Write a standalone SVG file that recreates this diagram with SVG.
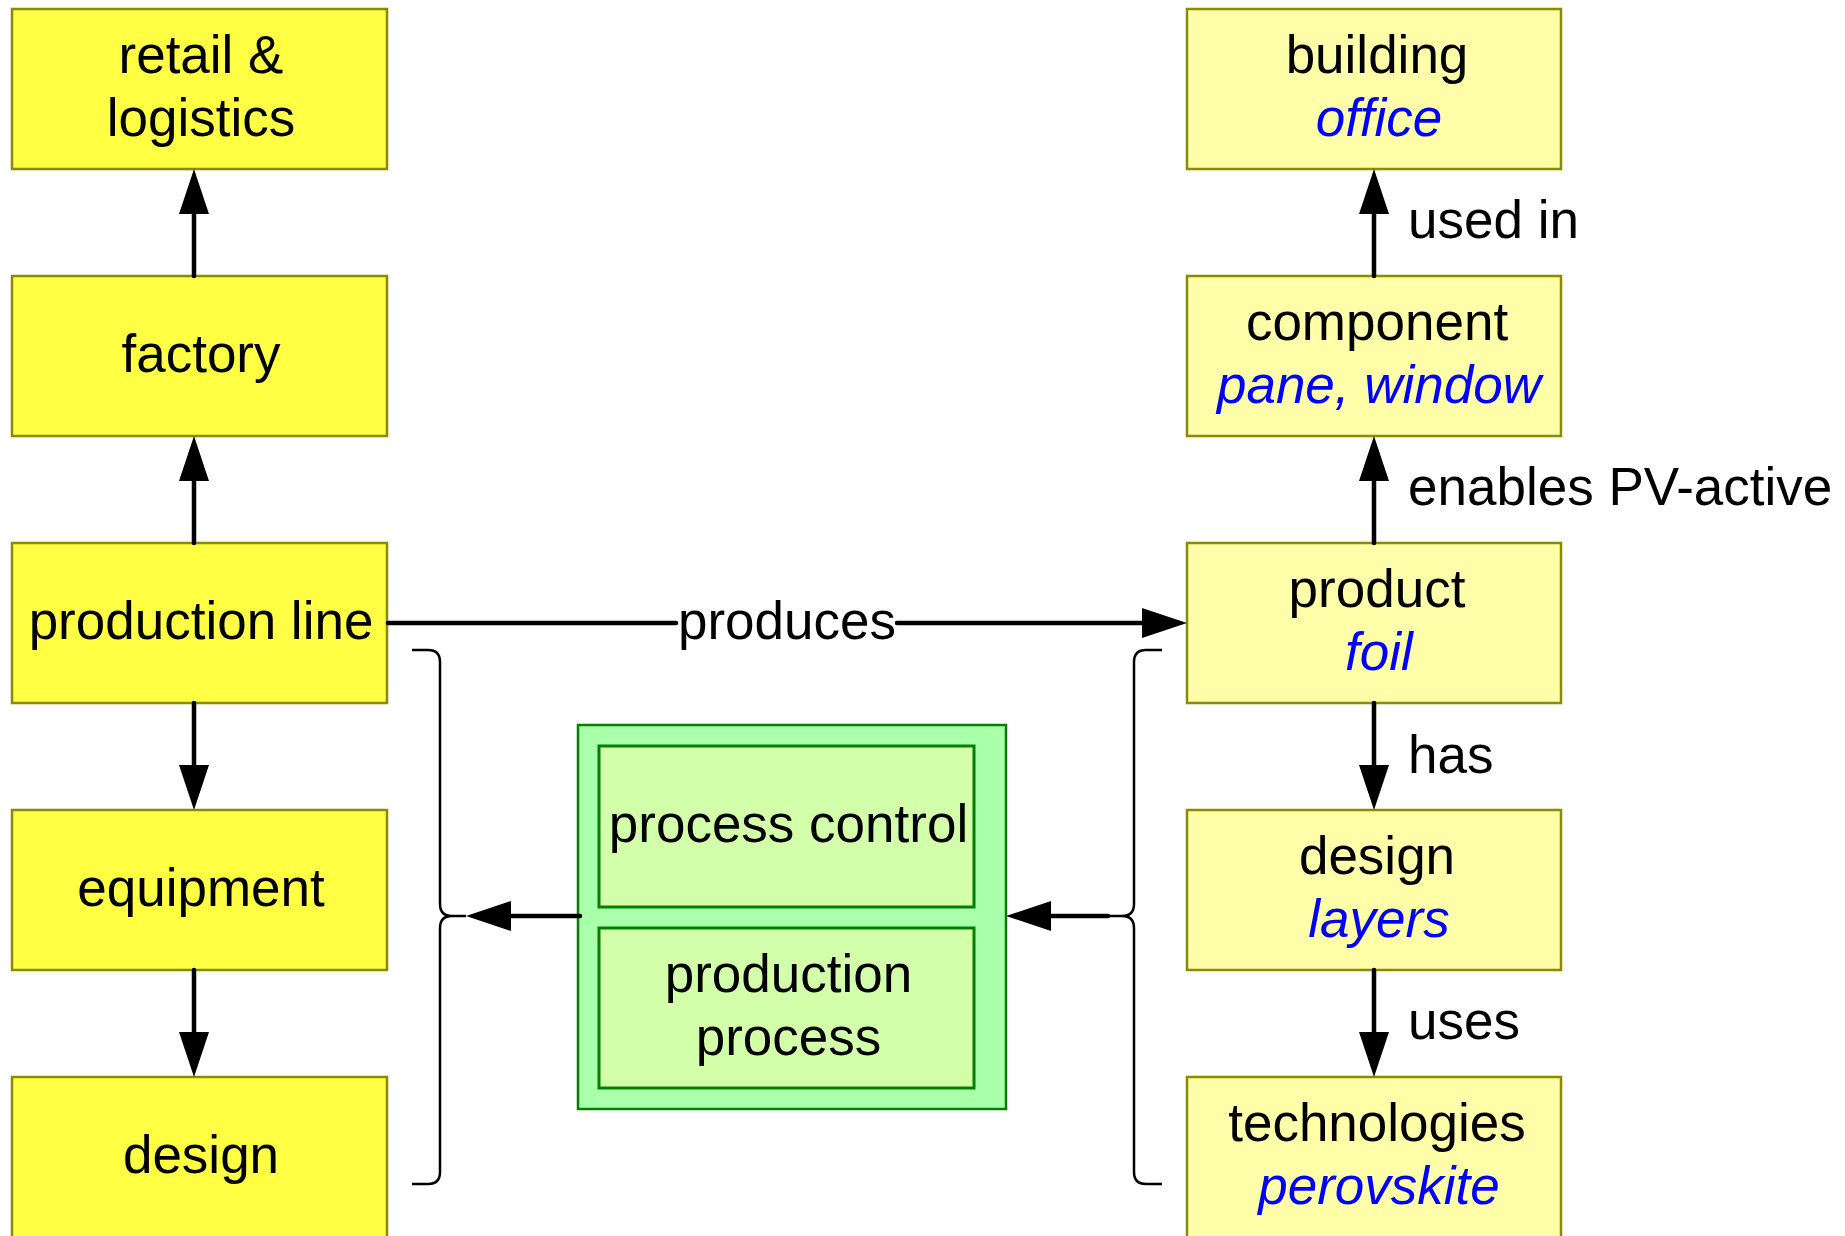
<svg xmlns="http://www.w3.org/2000/svg" width="1845" height="1236" viewBox="0 0 1845 1236">
<style>
.t{font-family:"Liberation Sans",Arial,sans-serif;font-size:53px;fill:#000;text-anchor:middle}
.lbl{font-family:"Liberation Sans",Arial,sans-serif;font-size:53px;fill:#000;text-anchor:start}
.it{font-style:italic;fill:#0000ff}
.lb{fill:#ffff44;stroke:#8b8b00;stroke-width:2.5}
.rb{fill:#ffffaa;stroke:#8b8b00;stroke-width:2.5}
.go{fill:#aaffaa;stroke:#008000;stroke-width:2.5}
.gi{fill:#d4ffaa;stroke:#008000;stroke-width:3}
.ar{stroke:#000;stroke-width:4.5;fill:none;stroke-linecap:round;marker-end:url(#ah)}
.ln{stroke:#000;stroke-width:4.5;fill:none;stroke-linecap:round}
.br{stroke:#000;stroke-width:2.5;fill:none}
</style>
<defs>
<marker id="ah" viewBox="0 0 45 30" refX="5" refY="15" markerWidth="45" markerHeight="30" markerUnits="userSpaceOnUse" orient="auto">
<path d="M0,0 L45,15 L0,30 Z" fill="#000"/>
</marker>
</defs>
<rect width="1845" height="1236" fill="#fff"/>
<g id="retail"><rect class="lb" x="12" y="9" width="375" height="160"/><text class="t" x="201" y="73">retail &amp;</text><text class="t" x="201" y="136">logistics</text></g>
<g id="factory"><rect class="lb" x="12" y="276" width="375" height="160"/><text class="t" x="201" y="372">factory</text></g>
<g id="productionline"><rect class="lb" x="12" y="543" width="375" height="160"/><text class="t" x="201" y="639">production line</text></g>
<g id="equipment"><rect class="lb" x="12" y="810" width="375" height="160"/><text class="t" x="201" y="906">equipment</text></g>
<g id="design-left"><rect class="lb" x="12" y="1077" width="375" height="162"/><text class="t" x="201" y="1173">design</text></g>
<g id="building"><rect class="rb" x="1187" y="9" width="374" height="160"/><text class="t" x="1377" y="73">building</text><text class="t it" x="1379" y="136">office</text></g>
<g id="component"><rect class="rb" x="1187" y="276" width="374" height="160"/><text class="t" x="1377" y="340">component</text><text class="t it" x="1379" y="403">pane, window</text></g>
<g id="product"><rect class="rb" x="1187" y="543" width="374" height="160"/><text class="t" x="1377" y="607">product</text><text class="t it" x="1379" y="670">foil</text></g>
<g id="design-right"><rect class="rb" x="1187" y="810" width="374" height="160"/><text class="t" x="1377" y="874">design</text><text class="t it" x="1379" y="937">layers</text></g>
<g id="technologies"><rect class="rb" x="1187" y="1077" width="374" height="162"/><text class="t" x="1377" y="1141">technologies</text><text class="t it" x="1379" y="1204">perovskite</text></g>
<g id="process"><rect class="go" x="578" y="725" width="428" height="384"/>
<g id="processcontrol"><rect class="gi" x="599" y="746" width="375" height="161"/><text class="t" x="788.5" y="842">process control</text></g>
<g id="productionprocess"><rect class="gi" x="599" y="928" width="375" height="160"/><text class="t" x="788.5" y="992">production</text><text class="t" x="788.5" y="1055">process</text></g>
</g>
<g id="connectors">
<line class="ar" x1="194" y1="276" x2="194" y2="209"/>
<line class="ar" x1="194" y1="543" x2="194" y2="476"/>
<line class="ar" x1="194" y1="703" x2="194" y2="770"/>
<line class="ar" x1="194" y1="970" x2="194" y2="1037"/>
<line class="ar" x1="1374" y1="276" x2="1374" y2="209"/>
<line class="ar" x1="1374" y1="543" x2="1374" y2="476"/>
<line class="ar" x1="1374" y1="703" x2="1374" y2="770"/>
<line class="ar" x1="1374" y1="970" x2="1374" y2="1037"/>
<line class="ln" x1="388" y1="623" x2="676" y2="623"/>
<line class="ar" x1="897" y1="623" x2="1147" y2="623"/>
<text class="t" x="787" y="639">produces</text>
<text class="lbl" x="1408" y="238">used in</text>
<text class="lbl" x="1408" y="505">enables PV-active</text>
<text class="lbl" x="1408" y="773">has</text>
<text class="lbl" x="1408" y="1039">uses</text>
<line class="ar" x1="580" y1="916" x2="506" y2="916"/>
<line class="ar" x1="1108" y1="916" x2="1046" y2="916"/>
<path class="br" d="M412,650 H428 Q440,650 440,662 V904 Q440,916 452,916 H466 M466,916 H452 Q440,916 440,928 V1172 Q440,1184 428,1184 H412"/>
<path class="br" d="M1162,650 H1146 Q1134,650 1134,662 V904 Q1134,916 1122,916 H1108 M1108,916 H1122 Q1134,916 1134,928 V1172 Q1134,1184 1146,1184 H1162"/>
</g>
</svg>
